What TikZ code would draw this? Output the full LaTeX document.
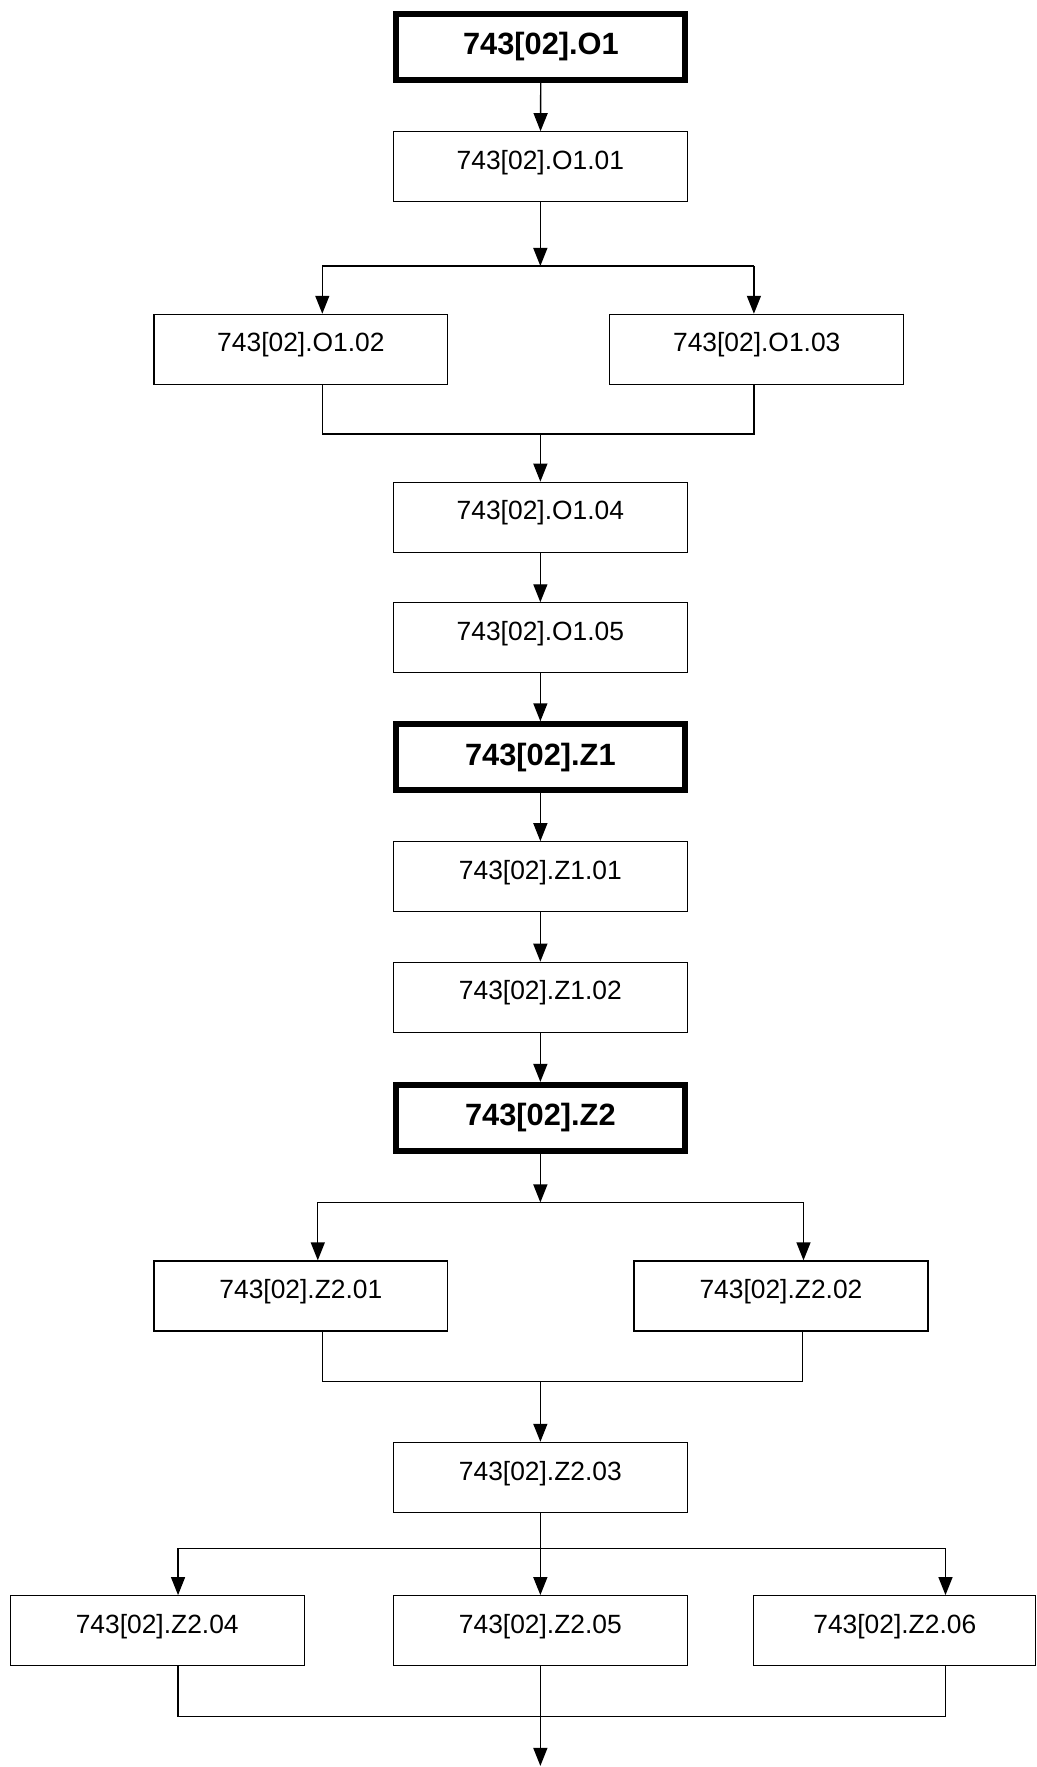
\documentclass[tikz,border=0pt]{standalone}
\usepackage{fontspec}
\setmainfont{Liberation Sans}
\usetikzlibrary{arrows.meta, positioning}

\begin{document}
\begin{tikzpicture}[x=0.5636pt, y=-0.5636pt,
        box/.style={draw, line width=0.6pt, minimum width=147pt, minimum height=35pt, inner sep=0pt, text height=9.6pt, text depth=7pt, font=\fontsize{13.2}{16}\selectfont},
        mainbox/.style={draw, line width=3pt, minimum width=144.5pt, minimum height=33pt, inner sep=0pt, font=\fontsize{15.4}{18}\selectfont\bfseries},
        line/.style={line width=0.7pt},
        arr/.style={line width=0.7pt, -{Triangle[length=9pt, width=7pt]}}]
        \useasboundingbox (0,0) rectangle (920,1568);

        % O1 block
        \node[mainbox] (o1) at (480,41.5) {743[02].O1};
        \node[box] (o101) at (479.5,148) {743[02].O1.01};
        \node[box] (o102) at (267,310) {743[02].O1.02};
        \node[box] (o103) at (671.5,310) {743[02].O1.03};
        \node[box] (o104) at (479.5,459) {743[02].O1.04};
        \node[box] (o105) at (479.5,566) {743[02].O1.05};

        % Z1 block
        \node[mainbox] (z1) at (479.5,672) {743[02].Z1};
        \node[box] (z101) at (479.5,778) {743[02].Z1.01};
        \node[box] (z102) at (479.5,885) {743[02].Z1.02};

        % Z2 block
        \node[mainbox] (z2) at (479.5,992) {743[02].Z2};
        \node[box] (z201) at (267,1150) {743[02].Z2.01};
        \node[box] (z202) at (693,1150) {743[02].Z2.02};
        \node[box] (z203) at (479.5,1311) {743[02].Z2.03};
        \node[box] (z204) at (139.5,1447) {743[02].Z2.04};
        \node[box] (z205) at (479.5,1447) {743[02].Z2.05};
        \node[box, minimum width=141pt] (z206) at (794,1447) {743[02].Z2.06};

        % junctions
        \coordinate (s1) at (479.5,236);
        \coordinate (s1l) at (286,236);
        \coordinate (s1r) at (669,236);
        \coordinate (m1) at (479.5,385);
        \coordinate (m1l) at (286,385);
        \coordinate (m1r) at (669,385);
        \coordinate (s2) at (479.5,1067);
        \coordinate (s2l) at (282,1067);
        \coordinate (s2r) at (713,1067);
        \coordinate (m2) at (479.5,1226);
        \coordinate (m2l) at (286,1226);
        \coordinate (m2r) at (712,1226);
        \coordinate (s3) at (479.5,1374);
        \coordinate (s3l) at (158,1374);
        \coordinate (s3r) at (839,1374);
        \coordinate (m3) at (479.5,1523);
        \coordinate (m3l) at (158,1523);
        \coordinate (m3r) at (839,1523);
        \coordinate (fin) at (479.5,1567);

        % O1 connectors
        \draw[arr] (o1) -- (o101);
        \draw[arr] (o101) -- (s1);
        \draw[line] (s1l) -- (s1r);
        \draw[arr] (s1l) -- (s1l |- o102.north);
        \draw[arr] (s1r) -- (s1r |- o103.north);
        \draw[line] (m1l |- o102.south) -- (m1l) -- (m1r) -- (m1r |- o103.south);
        \draw[arr] (m1) -- (o104);
        \draw[arr] (o104) -- (o105);
        \draw[arr] (o105) -- (z1);

        % Z1 connectors
        \draw[arr] (z1) -- (z101);
        \draw[arr] (z101) -- (z102);
        \draw[arr] (z102) -- (z2);

        % Z2 connectors
        \draw[arr] (z2) -- (s2);
        \draw[line] (s2l) -- (s2r);
        \draw[arr] (s2l) -- (s2l |- z201.north);
        \draw[arr] (s2r) -- (s2r |- z202.north);
        \draw[line] (m2l |- z201.south) -- (m2l) -- (m2r) -- (m2r |- z202.south);
        \draw[arr] (m2) -- (z203);
        \draw[line] (z203) -- (s3);
        \draw[line] (s3l) -- (s3r);
        \draw[arr] (s3l) -- (s3l |- z204.north);
        \draw[arr] (s3) -- (z205);
        \draw[arr] (s3r) -- (s3r |- z206.north);
        \draw[line] (m3l |- z204.south) -- (m3l) -- (m3r) -- (m3r |- z206.south);
        \draw[arr] (z205) -- (fin);
\end{tikzpicture}
\end{document}
